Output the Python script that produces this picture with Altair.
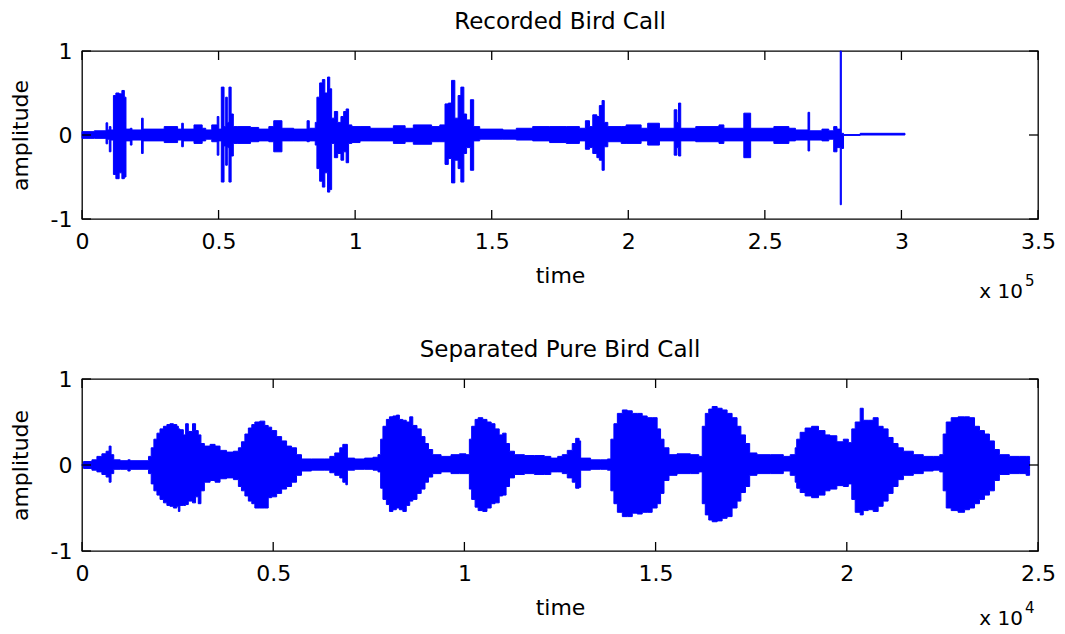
import altair as alt
import pandas as pd

FONT = "DejaVu Sans"
FS = 22
BLUE = "#0000FF"

# ---------------- Recorded Bird Call (time in units of 1e5) ----------------
rec_time = [
    0.000, 0.045, 0.088, 0.094, 0.100, 0.106, 0.115, 0.124, 0.136, 0.146,
    0.155, 0.161, 0.177, 0.183, 0.218, 0.224, 0.301, 0.350, 0.365, 0.371,
    0.410, 0.440, 0.453, 0.475, 0.495, 0.501, 0.510, 0.520, 0.526, 0.532,
    0.538, 0.546, 0.554, 0.568, 0.617, 0.647, 0.684, 0.702, 0.732, 0.775,
    0.824, 0.832, 0.854, 0.860, 0.870, 0.880, 0.889, 0.899, 0.907, 0.914,
    0.924, 0.936, 0.948, 0.958, 0.967, 0.976, 0.988, 1.018, 1.055, 1.140,
    1.183, 1.213, 1.280, 1.310, 1.329, 1.341, 1.353, 1.365, 1.377, 1.387,
    1.398, 1.408, 1.422, 1.434, 1.456, 1.541, 1.590, 1.650, 1.712, 1.773,
    1.821, 1.843, 1.858, 1.870, 1.885, 1.894, 1.904, 1.912, 1.925, 1.974,
    1.992, 2.047, 2.071, 2.114, 2.168, 2.178, 2.184, 2.192, 2.247, 2.332,
    2.350, 2.423, 2.448, 2.533, 2.588, 2.612, 2.658, 2.664, 2.709, 2.734,
    2.752, 2.764, 2.776, 2.780, 2.788, 2.849, 3.013]
rec_upper = [
    0.04, 0.05, 0.145, 0.06, 0.10, 0.06, 0.47, 0.50, 0.49, 0.53,
    0.45, 0.07, 0.08, 0.06, 0.20, 0.07, 0.10, 0.07, 0.14, 0.07,
    0.12, 0.08, 0.06, 0.12, 0.22, 0.07, 0.57, 0.10, 0.45, 0.15,
    0.57, 0.25, 0.10, 0.10, 0.09, 0.07, 0.10, 0.17, 0.08, 0.07,
    0.17, 0.08, 0.15, 0.45, 0.62, 0.66, 0.50, 0.69, 0.55, 0.20,
    0.28, 0.15, 0.22, 0.28, 0.31, 0.12, 0.10, 0.10, 0.08, 0.11,
    0.08, 0.12, 0.10, 0.12, 0.37, 0.38, 0.65, 0.20, 0.47, 0.57,
    0.25, 0.18, 0.42, 0.10, 0.07, 0.06, 0.08, 0.10, 0.10, 0.10,
    0.08, 0.17, 0.10, 0.24, 0.22, 0.35, 0.41, 0.15, 0.10, 0.10,
    0.12, 0.08, 0.14, 0.08, 0.30, 0.15, 0.38, 0.08, 0.10, 0.12,
    0.08, 0.26, 0.08, 0.10, 0.08, 0.06, 0.27, 0.05, 0.07, 0.05,
    0.10, 0.07, 1.00, 0.02, 0.005, 0.02, 0.02]
rec_lower = [
    -0.04, -0.04, -0.105, -0.05, -0.20, -0.06, -0.47, -0.52, -0.45, -0.52,
    -0.50, -0.07, -0.12, -0.06, -0.22, -0.07, -0.09, -0.06, -0.14, -0.07,
    -0.10, -0.07, -0.05, -0.08, -0.24, -0.07, -0.56, -0.13, -0.36, -0.15,
    -0.56, -0.25, -0.10, -0.10, -0.08, -0.07, -0.08, -0.20, -0.07, -0.07,
    -0.08, -0.07, -0.12, -0.40, -0.55, -0.62, -0.45, -0.68, -0.65, -0.10,
    -0.27, -0.22, -0.30, -0.20, -0.33, -0.10, -0.09, -0.07, -0.07, -0.10,
    -0.08, -0.11, -0.08, -0.08, -0.35, -0.28, -0.57, -0.30, -0.40, -0.56,
    -0.22, -0.15, -0.42, -0.07, -0.05, -0.05, -0.06, -0.07, -0.09, -0.10,
    -0.07, -0.17, -0.15, -0.22, -0.27, -0.30, -0.42, -0.14, -0.08, -0.10,
    -0.10, -0.07, -0.12, -0.07, -0.24, -0.15, -0.25, -0.07, -0.08, -0.10,
    -0.07, -0.27, -0.07, -0.10, -0.07, -0.06, -0.19, -0.06, -0.07, -0.05,
    -0.20, -0.15, -0.83, -0.16, -0.005, 0.00, 0.00]

# ---------------- Separated Pure Bird Call (time in units of 1e4) ----------------
sep_time = [
    0.000, 0.004, 0.026, 0.039, 0.052, 0.063, 0.071, 0.076, 0.083, 0.100,
    0.120, 0.126, 0.174, 0.181, 0.188, 0.196, 0.204, 0.213, 0.222, 0.230,
    0.239, 0.248, 0.252, 0.256, 0.265, 0.271, 0.278, 0.289, 0.297, 0.304,
    0.311, 0.320, 0.335, 0.348, 0.361, 0.378, 0.396, 0.409, 0.417, 0.426,
    0.435, 0.444, 0.452, 0.465, 0.478, 0.487, 0.496, 0.509, 0.522, 0.535,
    0.548, 0.561, 0.574, 0.600, 0.635, 0.648, 0.661, 0.674, 0.682, 0.690,
    0.694, 0.713, 0.739, 0.761, 0.774, 0.781, 0.787, 0.796, 0.804, 0.813,
    0.822, 0.830, 0.839, 0.848, 0.857, 0.865, 0.876, 0.887, 0.897, 0.906,
    0.917, 0.939, 0.965, 0.987, 1.004, 1.013, 1.019, 1.028, 1.036, 1.048,
    1.059, 1.070, 1.080, 1.091, 1.100, 1.109, 1.118, 1.131, 1.157, 1.183,
    1.209, 1.226, 1.244, 1.256, 1.269, 1.282, 1.291, 1.300, 1.304, 1.330,
    1.356, 1.374, 1.383, 1.391, 1.400, 1.413, 1.426, 1.439, 1.452, 1.465,
    1.478, 1.491, 1.504, 1.513, 1.522, 1.535, 1.556, 1.591, 1.613, 1.622,
    1.630, 1.639, 1.648, 1.661, 1.674, 1.687, 1.700, 1.713, 1.723, 1.735,
    1.746, 1.765, 1.800, 1.834, 1.852, 1.865, 1.869, 1.878, 1.891, 1.908,
    1.926, 1.943, 1.956, 1.974, 1.991, 2.004, 2.013, 2.022, 2.035, 2.043,
    2.056, 2.069, 2.082, 2.095, 2.108, 2.121, 2.134, 2.148, 2.174, 2.200,
    2.226, 2.243, 2.252, 2.260, 2.273, 2.291, 2.308, 2.321, 2.334, 2.347,
    2.360, 2.373, 2.386, 2.399, 2.425, 2.451, 2.469, 2.478]
sep_upper = [
    0.01, 0.04, 0.06, 0.10, 0.13, 0.16, 0.22, 0.12, 0.06, 0.05,
    0.06, 0.05, 0.10, 0.20, 0.30, 0.37, 0.42, 0.45, 0.47, 0.48,
    0.47, 0.45, 0.42, 0.41, 0.35, 0.48, 0.39, 0.48, 0.40, 0.35,
    0.25, 0.22, 0.24, 0.22, 0.17, 0.15, 0.16, 0.20, 0.27, 0.36,
    0.43, 0.47, 0.50, 0.51, 0.46, 0.44, 0.40, 0.33, 0.28, 0.22,
    0.20, 0.12, 0.07, 0.07, 0.07, 0.10, 0.14, 0.20, 0.24, 0.24,
    0.08, 0.07, 0.08, 0.09, 0.12, 0.30, 0.45, 0.53, 0.56, 0.57,
    0.58, 0.53, 0.52, 0.50, 0.56, 0.46, 0.42, 0.33, 0.25, 0.18,
    0.12, 0.10, 0.12, 0.13, 0.12, 0.30, 0.45, 0.53, 0.55, 0.53,
    0.50, 0.48, 0.42, 0.35, 0.37, 0.25, 0.16, 0.12, 0.11, 0.11,
    0.10, 0.08, 0.10, 0.12, 0.17, 0.25, 0.31, 0.28, 0.08, 0.06,
    0.06, 0.07, 0.30, 0.48, 0.60, 0.64, 0.63, 0.60, 0.60, 0.57,
    0.55, 0.55, 0.42, 0.30, 0.20, 0.12, 0.13, 0.12, 0.10, 0.45,
    0.60, 0.65, 0.68, 0.66, 0.64, 0.60, 0.55, 0.45, 0.35, 0.25,
    0.14, 0.12, 0.12, 0.10, 0.12, 0.20, 0.30, 0.38, 0.43, 0.45,
    0.40, 0.35, 0.34, 0.27, 0.30, 0.26, 0.42, 0.50, 0.66, 0.52,
    0.52, 0.55, 0.45, 0.42, 0.32, 0.25, 0.20, 0.16, 0.12, 0.10,
    0.10, 0.12, 0.36, 0.50, 0.55, 0.56, 0.56, 0.55, 0.45, 0.40,
    0.36, 0.28, 0.18, 0.12, 0.10, 0.10, 0.10, 0.05]
sep_lower = [
    -0.01, -0.04, -0.06, -0.08, -0.11, -0.14, -0.20, -0.10, -0.05, -0.05,
    -0.07, -0.05, -0.10, -0.22, -0.30, -0.35, -0.40, -0.44, -0.47, -0.48,
    -0.50, -0.48, -0.54, -0.47, -0.47, -0.46, -0.42, -0.44, -0.37, -0.45,
    -0.30, -0.20, -0.18, -0.20, -0.16, -0.15, -0.17, -0.25, -0.30, -0.36,
    -0.42, -0.45, -0.50, -0.50, -0.50, -0.38, -0.37, -0.33, -0.28, -0.25,
    -0.20, -0.12, -0.07, -0.06, -0.06, -0.09, -0.12, -0.15, -0.20, -0.23,
    -0.06, -0.05, -0.05, -0.06, -0.08, -0.27, -0.40, -0.46, -0.54, -0.52,
    -0.50, -0.52, -0.54, -0.47, -0.42, -0.40, -0.33, -0.28, -0.20, -0.14,
    -0.10, -0.08, -0.10, -0.10, -0.10, -0.28, -0.40, -0.49, -0.53, -0.54,
    -0.50, -0.45, -0.44, -0.36, -0.35, -0.25, -0.15, -0.11, -0.10, -0.11,
    -0.11, -0.08, -0.08, -0.10, -0.15, -0.20, -0.27, -0.26, -0.06, -0.05,
    -0.05, -0.06, -0.30, -0.45, -0.55, -0.60, -0.60, -0.56, -0.57, -0.55,
    -0.55, -0.50, -0.45, -0.33, -0.18, -0.12, -0.10, -0.10, -0.08, -0.45,
    -0.58, -0.64, -0.66, -0.65, -0.62, -0.60, -0.50, -0.42, -0.32, -0.25,
    -0.12, -0.10, -0.10, -0.07, -0.12, -0.20, -0.27, -0.32, -0.36, -0.38,
    -0.35, -0.30, -0.28, -0.24, -0.25, -0.22, -0.40, -0.55, -0.58, -0.53,
    -0.52, -0.54, -0.48, -0.42, -0.33, -0.25, -0.17, -0.12, -0.10, -0.07,
    -0.06, -0.08, -0.30, -0.50, -0.53, -0.55, -0.52, -0.50, -0.45, -0.40,
    -0.35, -0.30, -0.18, -0.11, -0.10, -0.10, -0.12, -0.05]

rec_ticks = [0, 0.5, 1, 1.5, 2, 2.5, 3, 3.5]
sep_ticks = [0, 0.5, 1, 1.5, 2, 2.5]
amp_ticks = [-1, 0, 1]

W = 956


def panel(time, upper, lower, xmax, xticks, title, h, expo, exp_y):
    df = pd.DataFrame({"t": time, "hi": upper, "lo": lower})
    x_enc = alt.X(
        "t:Q",
        scale=alt.Scale(domain=[0, xmax], nice=False, zero=False),
        axis=alt.Axis(values=xticks, title="time", labelExpr="datum.value + ''",
                      labelFlush=False, labelOverlap=False,
                      labelPadding=12, titlePadding=13),
    )
    y_enc = alt.Y(
        "hi:Q",
        scale=alt.Scale(domain=[-1, 1], nice=False, zero=False),
        axis=alt.Axis(values=amp_ticks, title="amplitude", labelExpr="datum.value + ''",
                      labelPadding=10, titlePadding=18),
    )
    wave = alt.Chart(df).mark_area(
        interpolate="step-after", color=BLUE, stroke=BLUE, strokeWidth=1, opacity=1
    ).encode(x=x_enc, y=y_enc, y2="lo:Q")

    xt = pd.DataFrame({"t": xticks})
    yt = pd.DataFrame({"hi": amp_ticks})
    tick_style = dict(color="black", strokeWidth=1.3)
    xt_top = alt.Chart(xt).mark_rule(**tick_style).encode(
        x="t:Q", y=alt.value(0), y2=alt.value(9))
    xt_bot = alt.Chart(xt).mark_rule(**tick_style).encode(
        x="t:Q", y=alt.value(h - 9), y2=alt.value(h))
    yt_l = alt.Chart(yt).mark_rule(**tick_style).encode(
        y="hi:Q", x=alt.value(0), x2=alt.value(9))
    yt_r = alt.Chart(yt).mark_rule(**tick_style).encode(
        y="hi:Q", x=alt.value(W - 9), x2=alt.value(W))

    ex1 = alt.Chart(pd.DataFrame({"s": ["x 10"]})).mark_text(
        align="right", baseline="alphabetic", font=FONT, fontSize=20, color="black"
    ).encode(text="s:N", x=alt.value(W - 15), y=alt.value(h + exp_y))
    ex2 = alt.Chart(pd.DataFrame({"s": [expo]})).mark_text(
        align="left", baseline="alphabetic", font=FONT, fontSize=15, color="black"
    ).encode(text="s:N", x=alt.value(W - 13), y=alt.value(h + exp_y - 12))

    return alt.layer(wave, xt_top, xt_bot, yt_l, yt_r, ex1, ex2).properties(
        width=W, height=h,
        title=alt.TitleParams(title, font=FONT, fontSize=23, fontWeight="normal",
                              color="black", offset=6),
    )


top = panel(rec_time, rec_upper, rec_lower, 3.5, rec_ticks, "Recorded Bird Call", 168, "5", 79)
bot = panel(sep_time, sep_upper, sep_lower, 2.5, sep_ticks, "Separated Pure Bird Call", 172, "4", 74)

chart = alt.vconcat(top, bot, spacing=35).configure_view(
    stroke="black", strokeWidth=1.3
).configure_axis(
    domain=False, ticks=False, grid=False,
    labelFont=FONT, labelFontSize=FS, labelColor="black",
    titleFont=FONT, titleFontSize=FS, titleFontWeight="normal", titleColor="black",
).properties(
    padding={"left": 0, "top": 2, "right": 0, "bottom": 0},
    background="white",
)

chart.save("out.html", embed_options={"renderer": "svg", "actions": False})
